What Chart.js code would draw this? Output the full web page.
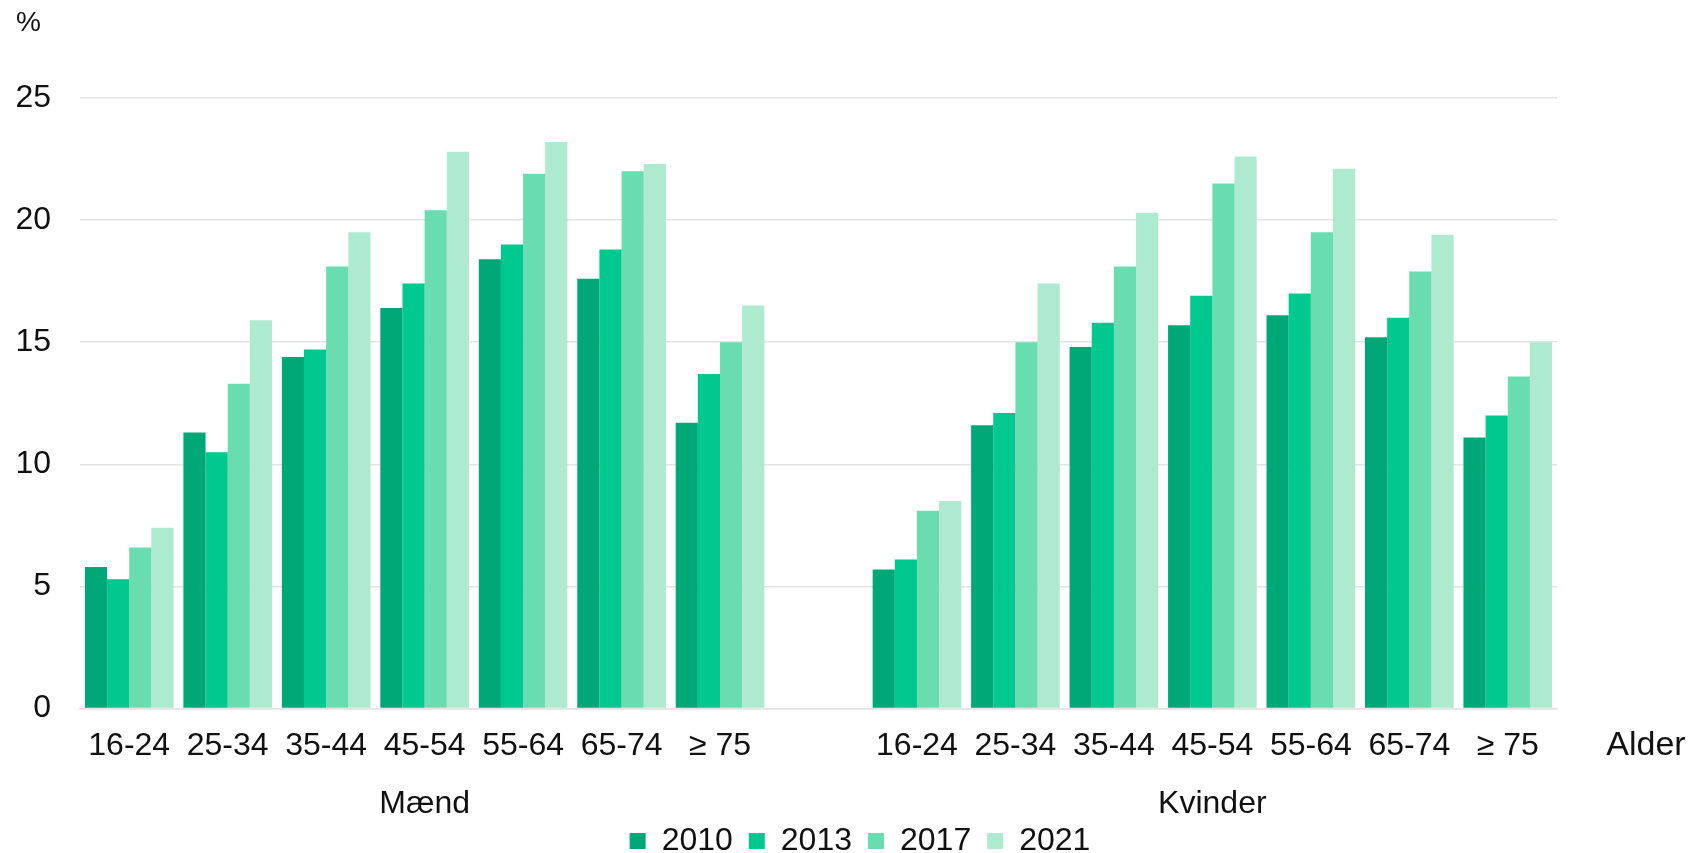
<!DOCTYPE html>
<html>
<head>
<meta charset="utf-8">
<script src="https://cdn.jsdelivr.net/npm/chart.js@4/dist/chart.umd.min.js"></script>
<style>
  html, body { margin: 0; padding: 0; background: #fff; }
  #wrap { width: 1693px; height: 853px; }
</style>
</head>
<body>
<div id="wrap"><canvas id="myChart" width="1693" height="853"></canvas></div>
<script>
// age groups, repeated for men and women with an empty slot between
const ageGroups = ['16-24', '25-34', '35-44', '45-54', '55-64', '65-74', '≥ 75'];
const sexes = ['Mænd', 'Kvinder'];
const years = ['2010', '2013', '2017', '2021'];
const yTicks = [0, 5, 10, 15, 20, 25];

// percent, men
const maend2010 = [5.8, 11.3, 14.4, 16.4, 18.4, 17.6, 11.7];
const maend2013 = [5.3, 10.5, 14.7, 17.4, 19.0, 18.8, 13.7];
const maend2017 = [6.6, 13.3, 18.1, 20.4, 21.9, 22.0, 15.0];
const maend2021 = [7.4, 15.9, 19.5, 22.8, 23.2, 22.3, 16.5];

// percent, women
const kvinder2010 = [5.7, 11.6, 14.8, 15.7, 16.1, 15.2, 11.1];
const kvinder2013 = [6.1, 12.1, 15.8, 16.9, 17.0, 16.0, 12.0];
const kvinder2017 = [8.1, 15.0, 18.1, 21.5, 19.5, 17.9, 13.6];
const kvinder2021 = [8.5, 17.4, 20.3, 22.6, 22.1, 19.4, 15.0];

const colors = ['#00a878', '#00c88f', '#6addb0', '#aeeacf'];

var labels = ageGroups.concat(['']).concat(ageGroups);
var men = [maend2010, maend2013, maend2017, maend2021];
var women = [kvinder2010, kvinder2013, kvinder2017, kvinder2021];

var datasets = [];
for (var i = 0; i < years.length; i++) {
    datasets.push({
        label: years[i],
        data: men[i].concat([null]).concat(women[i]),
        backgroundColor: colors[i],
        borderWidth: 0,
        categoryPercentage: 0.9,
        barPercentage: 1.0
    });
}

const FONT = 'Liberation Sans, Arial, sans-serif';
const TEXT = '#111';

// extra texts: unit, axis name and the two group names
const extraText = {
    id: 'extraText',
    afterLayout(chart) {
        // legend sits a bit right of the plot centre in the original
        chart.legend.left += 74;
        chart.legend.right += 74;
    },
    afterDraw(chart) {
        const ctx = chart.ctx;
        const area = chart.chartArea;
        const x = chart.scales.x;
        ctx.save();
        ctx.fillStyle = TEXT;
        ctx.textBaseline = 'middle';

        ctx.font = '28px ' + FONT;
        ctx.textAlign = 'left';
        ctx.fillText('%', 16, 23);

        ctx.font = '34px ' + FONT;
        ctx.textAlign = 'center';
        ctx.fillText('Alder', area.right + 89, area.bottom + 37);

        ctx.font = '32px ' + FONT;
        ctx.fillText(sexes[0], x.getPixelForValue(3), area.bottom + 96);
        ctx.fillText(sexes[1], x.getPixelForValue(11), area.bottom + 96);
        ctx.restore();
    }
};

new Chart(document.getElementById('myChart'), {
    type: 'bar',
    data: { labels: labels, datasets: datasets },
    plugins: [extraText],
    options: {
        responsive: false,
        animation: false,
        layout: { padding: { left: 15, right: 136, top: 98, bottom: -14 } },
        plugins: {
            legend: {
                position: 'bottom',
                labels: {
                    boxWidth: 16,
                    boxHeight: 16,
                    padding: 16,
                    color: TEXT,
                    font: { family: FONT, size: 32 }
                }
            },
            tooltip: { enabled: false }
        },
        scales: {
            x: {
                grid: { display: false, drawTicks: false },
                border: { display: true, color: '#e3e3e3', width: 1.5 },
                ticks: {
                    color: TEXT,
                    font: { family: FONT, size: 32 },
                    maxRotation: 0,
                    autoSkip: false,
                    padding: 18
                },
                afterFit: function (scale) {
                    // room for the Mænd / Kvinder row
                    scale.height += 26;
                }
            },
            y: {
                min: 0,
                max: 25,
                afterBuildTicks: function (scale) {
                    scale.ticks = yTicks.map(v => ({ value: v }));
                },
                afterFit: function (scale) {
                    scale.width = 65;
                },
                grid: { color: '#e3e3e3', lineWidth: 1.5, drawTicks: false },
                border: { display: false },
                ticks: {
                    color: TEXT,
                    font: { family: FONT, size: 32 },
                    padding: 29
                }
            }
        }
    }
});
</script>
</body>
</html>
